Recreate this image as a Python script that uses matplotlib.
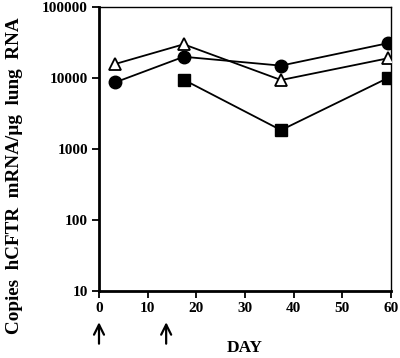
import matplotlib.pyplot as plt

plt.rcParams['font.family'] = ['Liberation Serif', 'DejaVu Serif']
plt.rcParams['font.weight'] = 'bold'

# data (day, copies per ug lung RNA)
circle_days = [3.3, 17.4, 37.4, 59.3]
circle_vals = [8700, 20000, 15000, 31000]

triangle_days = [3.3, 17.4, 37.4, 59.3]
triangle_vals = [15800, 30000, 9400, 19000]

square_days = [17.4, 37.4, 59.3]
square_vals = [9500, 1850, 10000]

arrow_days = [0, 13.8]

fig = plt.figure(figsize=(4.0, 3.58), dpi=100)
ax = fig.add_axes([0.2475, 0.187, 0.73, 0.793])

ax.plot(circle_days, circle_vals, "k-o", markersize=9, linewidth=1.3, zorder=3)
ax.plot(triangle_days, triangle_vals, "k-^", markersize=9, linewidth=1.3,
        markerfacecolor="white", markeredgewidth=1.3, zorder=3)
ax.plot(square_days, square_vals, "k-s", markersize=9, linewidth=1.3, zorder=3)

ax.set_yscale("log")
ax.set_ylim(10, 100000)
ax.set_xlim(0, 60)
ax.set_xticks([0, 10, 20, 30, 40, 50, 60])
ax.set_yticks([10, 100, 1000, 10000, 100000])
ax.set_yticklabels(["10", "100", "1000", "10000", "100000"])
ax.minorticks_off()

for s in ["left", "bottom"]:
    ax.spines[s].set_linewidth(2.0)
for s in ["top", "right"]:
    ax.spines[s].set_linewidth(1.0)

ax.tick_params(direction="out", length=5, width=1.3, labelsize=11, pad=3)
ax.tick_params(top=False, right=False)

fig.text(0.036, 0.51, "Copies  hCFTR  mRNA/\u00b5g  lung  RNA", fontsize=13.8,
         fontweight="bold", rotation=90, ha="center", va="center")
fig.text(0.6125, 0.028, "DAY", fontsize=12.5, fontweight="bold",
         ha="center", va="center")

for d in arrow_days:
    ax.annotate("", xy=(d, 0.100), xytext=(d, 0.040),
                xycoords=("data", "figure fraction"),
                arrowprops=dict(arrowstyle="->", color="black", lw=1.6,
                                mutation_scale=18, shrinkA=0, shrinkB=0),
                annotation_clip=False)

fig.savefig("out.png", dpi=100)
